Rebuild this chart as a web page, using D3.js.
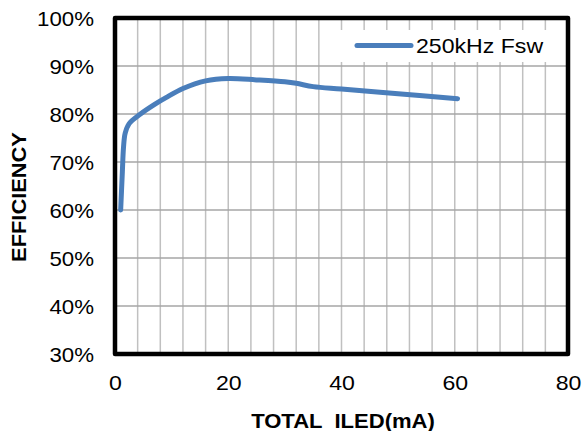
<!DOCTYPE html>
<html>
<head>
<meta charset="utf-8">
<script src="https://cdn.jsdelivr.net/npm/d3@7"></script>
<style>
body { margin: 0; background: #fff; }
svg { display: block; font-family: Arial, "Liberation Sans", sans-serif; }
.tick text { font-size: 21px; fill: #000; }
</style>
</head>
<body>
<svg width="585" height="431"></svg>
<script>
// data
var currentMA = [1, 1.3, 1.5, 1.8, 2.5, 4.5, 7, 9, 12, 16, 20, 25, 30, 32, 35, 40, 50, 60.5];
var efficiency = [60, 68, 73, 76, 78, 80, 82, 83.4, 85.3, 86.9, 87.4, 87.1, 86.7, 86.4, 85.7, 85.2, 84.2, 83.2];
var seriesName = "250kHz Fsw";
var xTicks = [0, 20, 40, 60, 80];
var yTicks = [30, 40, 50, 60, 70, 80, 90, 100];

var svg = d3.select("svg");
var plotL = 115, plotR = 568, plotT = 18, plotB = 354;

var x = d3.scaleLinear().domain([0, 80]).range([plotL, plotR]);
var y = d3.scaleLinear().domain([30, 100]).range([plotB, plotT]);

// widen text a bit, the original font runs wider than Arial
function stretch(sel, k) {
    sel.each(function() {
        var w = this.getComputedTextLength();
        d3.select(this).attr("textLength", w * k).attr("lengthAdjust", "spacingAndGlyphs");
    });
}

// vertical gridlines every 4 mA
svg.append("g").selectAll("line")
    .data(d3.range(4, 80, 4))
    .enter().append("line")
    .attr("x1", d => x(d)).attr("x2", d => x(d))
    .attr("y1", plotT).attr("y2", plotB)
    .attr("stroke", "#c0c0c0")
    .attr("stroke-width", 1.5);

// horizontal gridlines
svg.append("g").selectAll("line")
    .data(yTicks.slice(1, -1))
    .enter().append("line")
    .attr("x1", plotL).attr("x2", plotR)
    .attr("y1", d => y(d)).attr("y2", d => y(d))
    .attr("stroke", "#a6a6a6")
    .attr("stroke-width", 1.5);

// legend box hides grid behind it
svg.append("rect")
    .attr("x", 338).attr("y", 30)
    .attr("width", 228).attr("height", 32)
    .attr("fill", "#fff");

var line = d3.line()
    .x((d, i) => x(currentMA[i]))
    .y(d => y(d))
    .curve(d3.curveCatmullRom.alpha(0.5));

svg.append("path")
    .datum(efficiency)
    .attr("d", line)
    .attr("fill", "none")
    .attr("stroke", "#4a7ebb")
    .attr("stroke-width", 5)
    .attr("stroke-linecap", "round")
    .attr("stroke-linejoin", "round");

// plot frame
svg.append("rect")
    .attr("x", plotL).attr("y", plotT)
    .attr("width", plotR - plotL).attr("height", plotB - plotT)
    .attr("fill", "none")
    .attr("stroke", "#000")
    .attr("stroke-width", 4.5)
    .attr("stroke-linejoin", "round");

// axes (labels only)
var xAxis = svg.append("g")
    .attr("transform", "translate(0," + plotB + ")")
    .call(d3.axisBottom(x).tickValues(xTicks).tickSize(0).tickPadding(21));
xAxis.select(".domain").remove();
stretch(xAxis.selectAll("text"), 1.1);

var yAxis = svg.append("g")
    .attr("transform", "translate(" + plotL + ",0)")
    .call(d3.axisLeft(y).tickValues(yTicks).tickSize(0).tickPadding(21)
        .tickFormat(d => d + "%"));
yAxis.select(".domain").remove();
yAxis.selectAll("text").attr("dy", "0.35em");
stretch(yAxis.selectAll("text"), 1.06);

var xLabel = svg.append("text")
    .attr("x", 343).attr("y", 428)
    .attr("text-anchor", "middle")
    .attr("font-size", 21)
    .attr("font-weight", "bold")
    .style("white-space", "pre")
    .text("TOTAL  ILED(mA)");
stretch(xLabel, 1.05);

var yLabel = svg.append("text")
    .attr("transform", "translate(26,197) rotate(-90)")
    .attr("text-anchor", "middle")
    .attr("font-size", 21)
    .attr("font-weight", "bold")
    .text("EFFICIENCY");
stretch(yLabel, 1.04);

// legend
svg.append("line")
    .attr("x1", 357).attr("x2", 411)
    .attr("y1", 45.5).attr("y2", 45.5)
    .attr("stroke", "#4a7ebb")
    .attr("stroke-width", 5)
    .attr("stroke-linecap", "round");

var legendText = svg.append("text")
    .attr("x", 416).attr("y", 53)
    .attr("font-size", 21)
    .text(seriesName);
stretch(legendText, 1.1);
</script>
</body>
</html>
